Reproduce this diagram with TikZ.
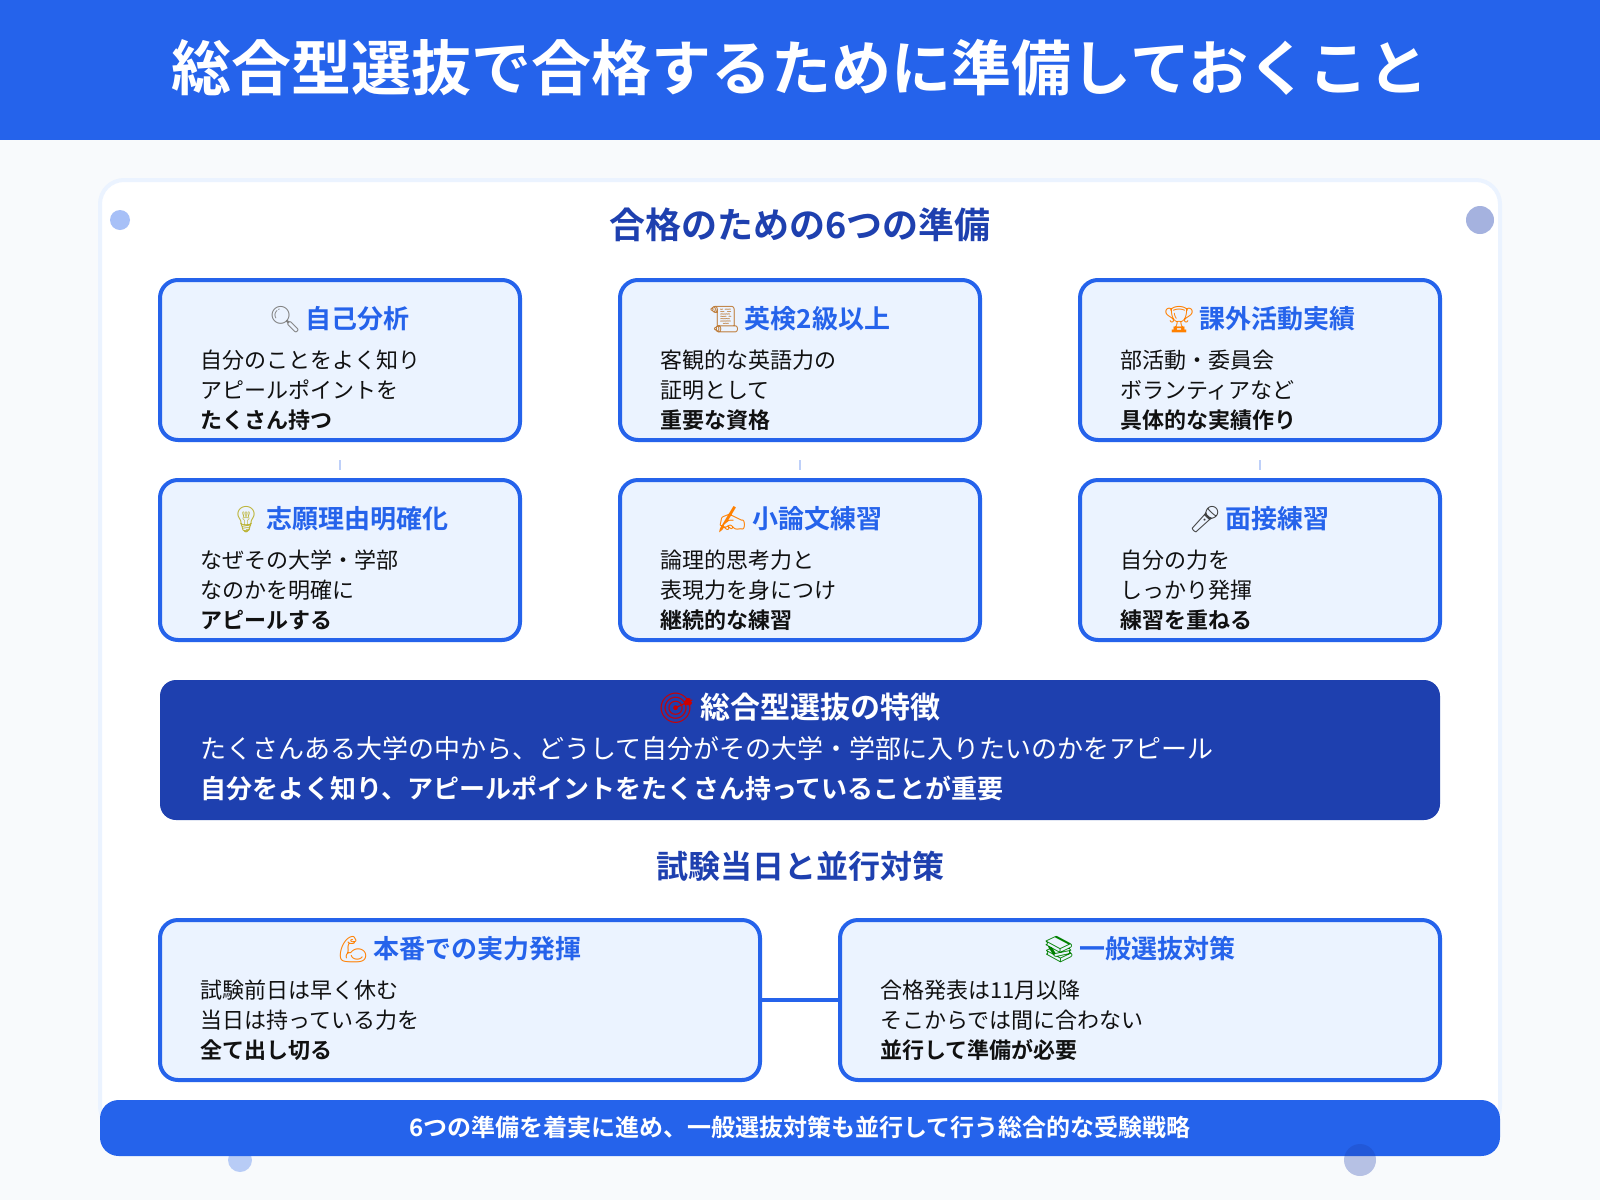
\documentclass[tikz,border=0pt]{standalone}
\usepackage{fontspec}
\setmainfont{Noto Sans CJK JP}[BoldFont={Noto Sans CJK JP Bold}]
\newfontfamily\emojifont{Noto Emoji}
\definecolor{mainblue}{HTML}{2563EB}
\definecolor{deepblue}{HTML}{1E40AF}
\definecolor{paleblue}{HTML}{EBF3FF}
\definecolor{pagegray}{HTML}{F8FAFC}
\definecolor{inkblack}{HTML}{111111}
\tikzset{
  card/.style={draw=mainblue,line width=3pt,fill=paleblue,rounded corners=13.5pt,minimum height=120pt,inner sep=0pt},
  headtext/.style={text=mainblue,inner sep=0pt,font=\fontsize{19.5pt}{24pt}\selectfont\bfseries},
  bodytext/.style={text=inkblack,inner sep=0pt,anchor=north west,align=left,font=\fontsize{16.5pt}{22.5pt}\selectfont},
  sectiontext/.style={text=deepblue,inner sep=0pt,font=\bfseries},
  tick/.style={draw=mainblue!30,line width=1.5pt},
}
\begin{document}
\begin{tikzpicture}[x=0.75pt,y=0.75pt,yscale=-1]
\useasboundingbox (0,0) rectangle (1600,1200);
%Page background
\fill [pagegray] (0,0) rectangle (1600,1200);
%Shape: Header
\fill [mainblue] (0,0) rectangle (1600,140);
% Text Node
\node [text=white,inner sep=0pt,font=\fontsize{45pt}{54pt}\selectfont\bfseries] (title) at (800,68) {総合型選抜で合格するために準備しておくこと};

%Shape: White sheet
\draw [draw=paleblue,line width=3pt,fill=white,rounded corners=18pt] (100,180) rectangle (1500,1130);

%Shape: Top row
\node [card,minimum width=270pt] (selfbox) at (340,360) {};
\node [card,minimum width=270pt] (eikenbox) at (800,360) {};
\node [card,minimum width=270pt] (clubbox) at (1260,360) {};
%Shape: Second row
\node [card,minimum width=270pt] (reasonbox) at (340,560) {};
\node [card,minimum width=270pt] (essaybox) at (800,560) {};
\node [card,minimum width=270pt] (talkbox) at (1260,560) {};
%Shape: Short ticks
\coordinate (selftick) at (340,460);
\coordinate (eikentick) at (800,460);
\coordinate (clubtick) at (1260,460);
\draw [tick] (selftick) -- ++(0,10);
\draw [tick] (eikentick) -- ++(0,10);
\draw [tick] (clubtick) -- ++(0,10);

%Shape: Dark band
\node [fill=deepblue,rounded corners=12pt,minimum width=960pt,minimum height=105pt,inner sep=0pt] (featurebox) at (800,750) {};
%Shape: Bottom row
\node [card,minimum width=450pt] (examBox) at (460,1000) {};
\node [card,minimum width=450pt] (generalbox) at (1140,1000) {};
%Straight Lines
\draw [draw=mainblue,line width=3pt] (examBox) -- (generalbox);
%Shape: Footer bar
\node [fill=mainblue,rounded corners=14pt,minimum width=1050pt,minimum height=42pt,inner sep=0pt] (footerbar) at (800,1128) {};

%Shape: Corner dots
\fill [mainblue,opacity=.4] (120,220) circle [radius=7.5pt];
\fill [deepblue,opacity=.4] (1480,220) circle [radius=10.5pt];
\fill [mainblue,opacity=.3] (240,1160) circle [radius=9pt];
\fill [deepblue,opacity=.3] (1360,1160) circle [radius=12pt];

% Text Node
\node [sectiontext,font=\fontsize{27pt}{32pt}\selectfont\bfseries] (plantitle) at (800,225) {合格のための6つの準備};
\node [sectiontext,font=\fontsize{24pt}{30pt}\selectfont\bfseries] (examtitle) at (800,866) {試験当日と並行対策};

% Text Node
\node [headtext] (selfhead) at (339,320) {{\emojifont\textcolor{gray}{🔍}}\hspace{-1.5pt} 自己分析};
\node [headtext] (eikenhead) at (799,320) {{\emojifont\textcolor{brown}{📜}}\hspace{-1.5pt} 英検2級以上};
\node [headtext] (clubhead) at (1259,320) {{\emojifont\textcolor{orange}{🏆}}\hspace{-1.5pt} 課外活動実績};
\node [headtext] (reasonhead) at (339,520) {{\emojifont\textcolor{yellow!70!black}{💡}}\hspace{-1.5pt} 志願理由明確化};
\node [headtext] (essayhead) at (799,520) {{\emojifont\textcolor{orange}{✍}}\hspace{-1.5pt} 小論文練習};
\node [headtext] (talkhead) at (1259,520) {{\emojifont\textcolor{darkgray}{🎤}}\hspace{-1.5pt} 面接練習};
\node [headtext] (examhead) at (459,950) {{\emojifont\textcolor{orange}{💪}}\hspace{-1.5pt} 本番での実力発揮};
\node [headtext] (generalhead) at (1139,950) {{\emojifont\textcolor{green!50!black}{📚}}\hspace{-1.5pt} 一般選抜対策};

% Text Node
\node [bodytext] (selfbody) at (200,350) {自分のことをよく知り\\アピールポイントを\\\textbf{たくさん持つ}};
\node [bodytext] (eikenbody) at (660,350) {客観的な英語力の\\証明として\\\textbf{重要な資格}};
\node [bodytext] (clubbody) at (1120,350) {部活動・委員会\\ボランティアなど\\\textbf{具体的な実績作り}};
\node [bodytext] (reasonbody) at (200,550) {なぜその大学・学部\\なのかを明確に\\\textbf{アピールする}};
\node [bodytext] (essaybody) at (660,550) {論理的思考力と\\表現力を身につけ\\\textbf{継続的な練習}};
\node [bodytext] (talkbody) at (1120,550) {自分の力を\\しっかり発揮\\\textbf{練習を重ねる}};
\node [bodytext] (exambody) at (200,980) {試験前日は早く休む\\当日は持っている力を\\\textbf{全て出し切る}};
\node [bodytext] (generalbody) at (880,980) {合格発表は11月以降\\そこからでは間に合わない\\\textbf{並行して準備が必要}};

% Text Node
\node [text=white,inner sep=0pt,font=\fontsize{22.5pt}{27pt}\selectfont\bfseries] (featurehead) at (799,708) {{\emojifont\textcolor{red!80!black}{🎯}}\hspace{-1.5pt} 総合型選抜の特徴};
\node [text=white,inner sep=0pt,anchor=north west,align=left,font=\fontsize{19.5pt}{30pt}\selectfont] (featurebody) at (200,736) {たくさんある大学の中から、どうして自分がその大学・学部に入りたいのかをアピール\\\textbf{自分をよく知り、アピールポイントをたくさん持っていることが重要}};
\node [text=white,inner sep=0pt,font=\fontsize{18pt}{24pt}\selectfont\bfseries] (footertext) at (800,1127) {6つの準備を着実に進め、一般選抜対策も並行して行う総合的な受験戦略};
\end{tikzpicture}
\end{document}
